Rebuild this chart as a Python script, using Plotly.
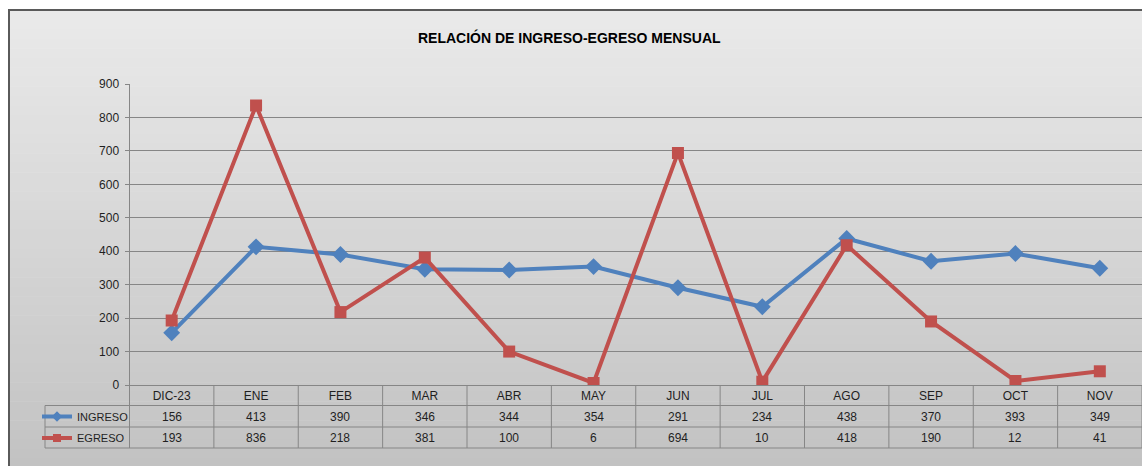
import plotly.graph_objects as go

W, H = 1142, 466

categories = ["DIC-23", "ENE", "FEB", "MAR", "ABR", "MAY", "JUN", "JUL", "AGO", "SEP", "OCT", "NOV"]
ingreso = [156, 413, 390, 346, 344, 354, 291, 234, 438, 370, 393, 349]
egreso = [193, 836, 218, 381, 100, 6, 694, 10, 418, 190, 12, 41]
y_ticks = [0, 100, 200, 300, 400, 500, 600, 700, 800, 900]
title_text = "RELACIÓN DE INGRESO-EGRESO MENSUAL"

BLUE = "#4F81BD"
RED = "#C0504D"
FONT = "Liberation Sans, Arial, sans-serif"
TEXT = "#1f1f1f"
GRID = "#868686"


def px(x):
    return x / W


def py(y):
    return 1 - y / H


fig = go.Figure()

fig.add_trace(go.Scatter(
    x=categories, y=ingreso, name="INGRESO", mode="lines+markers",
    line=dict(color=BLUE, width=4),
    marker=dict(symbol="diamond", size=13, color=BLUE),
    showlegend=False,
))
fig.add_trace(go.Scatter(
    x=categories, y=egreso, name="EGRESO", mode="lines+markers",
    line=dict(color=RED, width=4),
    marker=dict(symbol="square", size=12, color=RED),
    showlegend=False,
))
# legend keys (table row headers)
fig.add_trace(go.Scatter(
    x=[None], y=[None], name="INGRESO", mode="lines+markers",
    line=dict(color=BLUE, width=4),
    marker=dict(symbol="diamond", size=8, color=BLUE),
    legend="legend",
))
fig.add_trace(go.Scatter(
    x=[None], y=[None], name="EGRESO", mode="lines+markers",
    line=dict(color=RED, width=4),
    marker=dict(symbol="square", size=8, color=RED),
    legend="legend2",
))

shapes = []
# background gradient
N = 48
top_c, bot_c = 234, 194
y_start = 10
for i in range(N):
    y0 = y_start + i * (H + 2 - y_start) / N
    y1 = y_start + (i + 1) * (H + 2 - y_start) / N
    c = round(top_c + (bot_c - top_c) * (i + 0.5) / N)
    shapes.append(dict(type="rect", xref="paper", yref="paper",
                       x0=px(9), x1=px(W + 5), y0=py(y1 + 0.5), y1=py(y0),
                       fillcolor=f"rgb({c},{c},{c})", line=dict(width=0), layer="below"))
# outer border
shapes.append(dict(type="rect", xref="paper", yref="paper",
                   x0=px(9), x1=px(W + 5), y0=py(H + 5), y1=py(10),
                   fillcolor="rgba(0,0,0,0)", line=dict(color="#5a5a5a", width=2), layer="below"))
# table horizontal lines
for yy in [405.5, 427, 448]:
    shapes.append(dict(type="line", xref="paper", yref="paper",
                       x0=px(45), x1=px(W + 2), y0=py(yy), y1=py(yy),
                       line=dict(color=GRID, width=1)))
# table left border
shapes.append(dict(type="line", xref="paper", yref="paper",
                   x0=px(45), x1=px(45), y0=py(405.5), y1=py(448),
                   line=dict(color=GRID, width=1)))
# y-axis extension through table
shapes.append(dict(type="line", xref="paper", yref="paper",
                   x0=px(129.5), x1=px(129.5), y0=py(385), y1=py(448),
                   line=dict(color=GRID, width=1)))
# column dividers
for i in range(len(categories)):
    shapes.append(dict(type="line", xref="x", yref="paper",
                       x0=i + 0.5, x1=i + 0.5, y0=py(385), y1=py(448),
                       line=dict(color=GRID, width=1)))

annotations = []
for row_y, vals in [(416.5, ingreso), (438, egreso)]:
    for c, v in zip(categories, vals):
        annotations.append(dict(x=c, xref="x", y=py(row_y), yref="paper",
                                text=str(v), showarrow=False,
                                font=dict(family=FONT, size=12, color=TEXT),
                                xanchor="center", yanchor="middle"))
annotations.append(dict(x=px(569), xref="paper", y=py(38), yref="paper",
                        text=f"<b>{title_text}</b>", showarrow=False,
                        font=dict(family=FONT, size=14, color="#000000"),
                        xanchor="center", yanchor="middle"))

legend_common = dict(xanchor="left", yanchor="middle", bgcolor="rgba(0,0,0,0)",
                     borderwidth=0, font=dict(family=FONT, size=11, color=TEXT),
                     itemwidth=30)

fig.update_layout(
    width=W, height=H,
    margin=dict(l=0, r=0, t=0, b=0, autoexpand=False),
    paper_bgcolor="#ffffff",
    plot_bgcolor="rgba(0,0,0,0)",
    font=dict(family=FONT, size=12, color=TEXT),
    xaxis=dict(type="category", domain=[px(129.5), 1.0], range=[-0.5, len(categories) - 0.5],
               showgrid=False, showline=True, linecolor=GRID, linewidth=1,
               ticks="", tickfont=dict(family=FONT, size=12, color=TEXT),
               zeroline=False, fixedrange=True, automargin=False),
    yaxis=dict(domain=[py(385), py(84)], range=[0, 900], tickvals=y_ticks,
               showgrid=True, gridcolor=GRID, gridwidth=1,
               showline=True, linecolor=GRID, linewidth=1,
               ticks="outside", ticklen=4, tickcolor=GRID,
               ticklabelstandoff=3,
               tickfont=dict(family=FONT, size=12, color=TEXT),
               zeroline=False, fixedrange=True, automargin=False),
    legend=dict(x=px(37), y=py(416.5), **legend_common),
    legend2=dict(x=px(37), y=py(438), **legend_common),
    shapes=shapes,
    annotations=annotations,
)

fig.write_html("out.html", config={"displayModeBar": False},
               post_script="document.body.style.margin='0px';")
